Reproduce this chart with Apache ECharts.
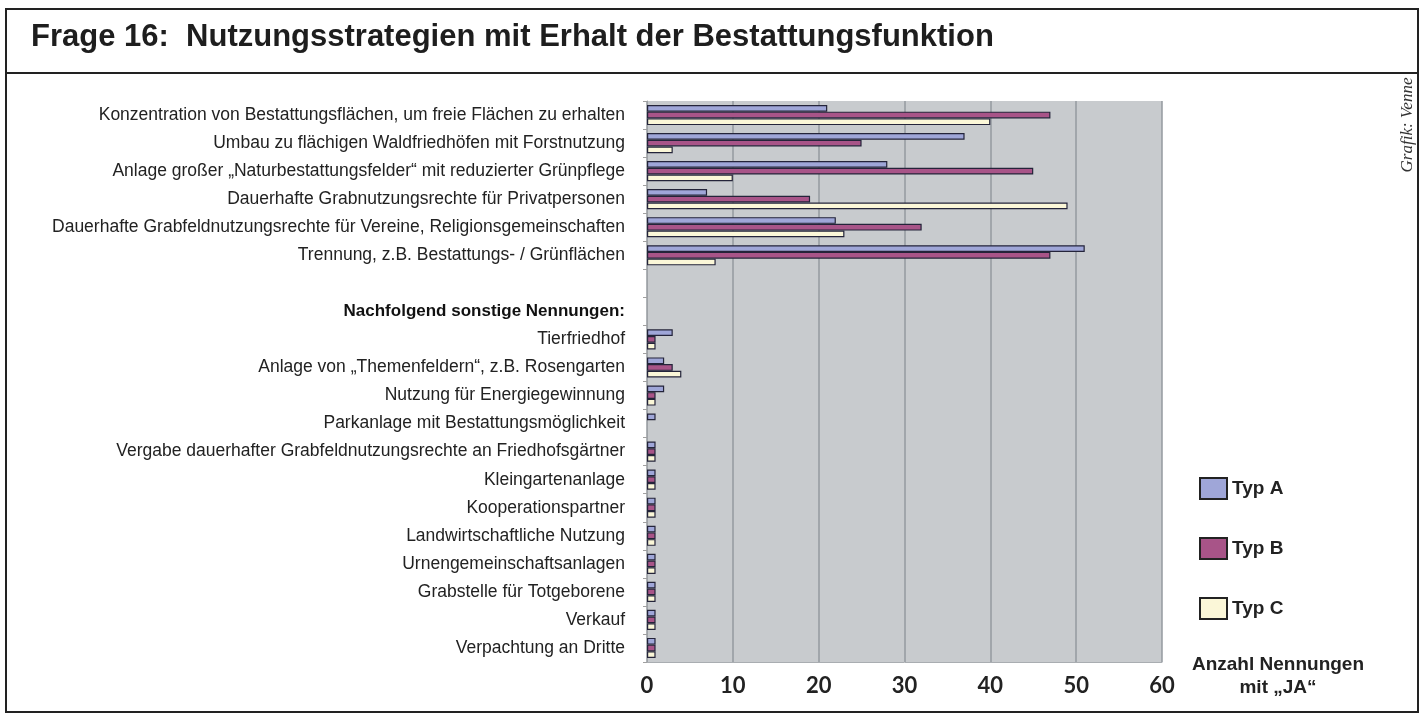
<!DOCTYPE html>
<html>
<head>
<meta charset="utf-8">
<script src="https://cdn.jsdelivr.net/npm/echarts@6/dist/echarts.min.js"></script>
<style>html,body{margin:0;padding:0;background:#fff;}#c{width:1426px;height:715px;}</style>
</head>
<body>
<div id="c"></div>
<script>
const titleText = 'Frage 16:  Nutzungsstrategien mit Erhalt der Bestattungsfunktion';
const categories = [
  'Konzentration von Bestattungsflächen, um freie Flächen zu erhalten',
  'Umbau zu flächigen Waldfriedhöfen mit Forstnutzung',
  'Anlage großer „Naturbestattungsfelder“ mit reduzierter Grünpflege',
  'Dauerhafte Grabnutzungsrechte für Privatpersonen',
  'Dauerhafte Grabfeldnutzungsrechte für Vereine, Religionsgemeinschaften',
  'Trennung, z.B. Bestattungs- / Grünflächen',
  '',
  'Nachfolgend sonstige Nennungen:',
  'Tierfriedhof',
  'Anlage von „Themenfeldern“, z.B. Rosengarten',
  'Nutzung für Energiegewinnung',
  'Parkanlage mit Bestattungsmöglichkeit',
  'Vergabe dauerhafter Grabfeldnutzungsrechte an Friedhofsgärtner',
  'Kleingartenanlage',
  'Kooperationspartner',
  'Landwirtschaftliche Nutzung',
  'Urnengemeinschaftsanlagen',
  'Grabstelle für Totgeborene',
  'Verkauf',
  'Verpachtung an Dritte'
];
const boldCategory = 'Nachfolgend sonstige Nennungen:';
const seriesNames = ['Typ A', 'Typ B', 'Typ C'];
const typA = [21, 37, 28, 7, 22, 51, null, null, 3, 2, 2, 1, 1, 1, 1, 1, 1, 1, 1, 1];
const typB = [47, 25, 45, 19, 32, 47, null, null, 1, 3, 1, null, 1, 1, 1, 1, 1, 1, 1, 1];
const typC = [40, 3, 10, 49, 23, 8, null, null, 1, 4, 1, null, 1, 1, 1, 1, 1, 1, 1, 1];
const xTicks = [0, 10, 20, 30, 40, 50, 60];
const axisNote = ['Anzahl Nennungen', 'mit „JA“'];
const credit = 'Grafik: Venne';

const colors = ['#9fa6d8', '#a85488', '#fbf7d8'];
const chart = echarts.init(document.getElementById('c'), null, {renderer: 'canvas'});
const labelFont = '"Liberation Sans", Arimo, sans-serif';

const option = {
  animation: false,
  backgroundColor: '#fff',
  grid: {
    left: 647, right: 264, top: 101, bottom: 53,
    show: true, backgroundColor: '#c8cbce', borderWidth: 0
  },
  legend: {
    orient: 'vertical',
    left: 1194, top: 472,
    itemWidth: 27, itemHeight: 21, itemGap: 37,
    data: seriesNames,
    icon: 'rect',
    itemStyle: {borderColor: '#222', borderWidth: 2},
    textStyle: {fontFamily: labelFont, fontWeight: 'bold', fontSize: 19, color: '#222'}
  },
  xAxis: {
    type: 'value', min: 0, max: 60, interval: 10,
    axisLine: {show: true, lineStyle: {color: '#a9adb1', width: 1}},
    axisTick: {show: false},
    splitLine: {show: true, lineStyle: {color: '#959a9f', width: 1.5}},
    axisLabel: {
      fontFamily: 'Lato, "Liberation Sans", sans-serif', fontWeight: 'bold', fontSize: 22, color: '#222', margin: 13,
      formatter: v => xTicks.includes(v) ? String(v) : ''
    }
  },
  yAxis: {
    type: 'category', inverse: true, data: categories,
    axisLine: {show: true, lineStyle: {color: '#9ea2a6', width: 1}},
    axisTick: {show: true, length: 4, lineStyle: {color: '#a0a0a0'}},
    axisLabel: {
      fontFamily: labelFont, fontSize: 17.5, color: '#222', margin: 22,
      formatter: v => v === boldCategory ? '{b|' + v + '}' : v,
      rich: {b: {fontFamily: labelFont, fontSize: 17, fontWeight: 'bold', color: '#111'}}
    }
  },
  series: [typA, typB, typC].map((d, i) => ({
    name: seriesNames[i], type: 'bar', data: d,
    barGap: '0%', barCategoryGap: '28%',
    itemStyle: {color: colors[i], borderColor: '#24243a', borderWidth: 1.2}
  })),
  graphic: [
    {type: 'rect', shape: {x: 6, y: 9, width: 1412, height: 703}, style: {fill: 'none', stroke: '#222', lineWidth: 2}, z: 100},
    {type: 'line', shape: {x1: 6, y1: 73, x2: 1418, y2: 73}, style: {stroke: '#222', lineWidth: 2}, z: 100},
    {type: 'text', left: 31, top: 22, style: {text: titleText, font: 'bold 31px ' + labelFont, fill: '#1e1e1e'}},
    {type: 'text', x: 1408, y: 125, rotation: Math.PI / 2,
      style: {text: credit, font: 'italic 17px "Liberation Serif", serif', fill: '#333', align: 'center', verticalAlign: 'middle'}},
    {type: 'text', x: 1278, y: 665, style: {text: axisNote[0], font: 'bold 19px ' + labelFont, fill: '#222', align: 'center', verticalAlign: 'middle'}},
    {type: 'text', x: 1278, y: 688, style: {text: axisNote[1], font: 'bold 19px ' + labelFont, fill: '#222', align: 'center', verticalAlign: 'middle'}}
  ]
};
chart.setOption(option);
</script>
</body>
</html>
